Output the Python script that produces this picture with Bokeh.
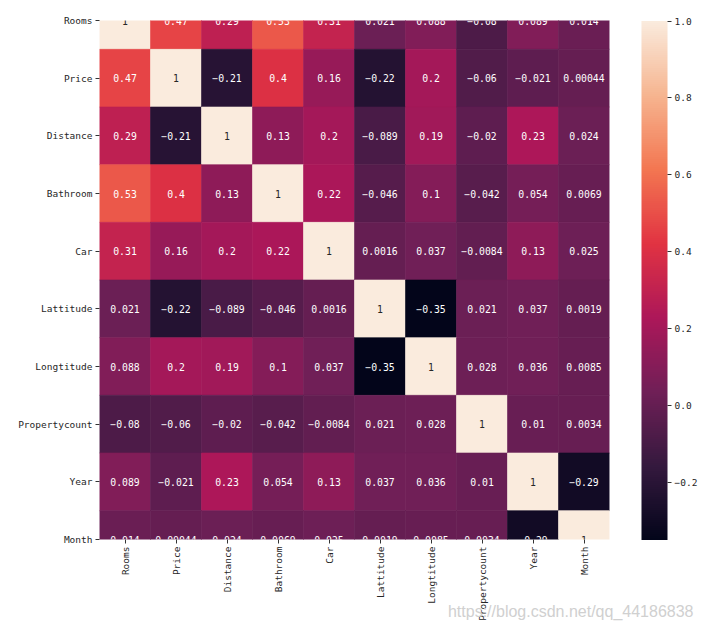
import numpy as np
from bokeh.plotting import figure
from bokeh.models import (ColumnDataSource, LinearColorMapper, ColorBar, FixedTicker,
                          Range1d, CustomJSTickFormatter, Title)
from bokeh.transform import transform
from bokeh.core.properties import value
from bokeh.embed import file_html
from bokeh.resources import INLINE

# Variables of the housing data set, in matrix order
names = ["Rooms", "Price", "Distance", "Bathroom", "Car", "Lattitude",
         "Longtitude", "Propertycount", "Year", "Month"]

# Pairwise correlation coefficients, one row per variable
rooms         = [1, 0.47, 0.29, 0.53, 0.31, 0.021, 0.088, -0.08, 0.089, 0.014]
price         = [0.47, 1, -0.21, 0.4, 0.16, -0.22, 0.2, -0.06, -0.021, 0.00044]
distance      = [0.29, -0.21, 1, 0.13, 0.2, -0.089, 0.19, -0.02, 0.23, 0.024]
bathroom      = [0.53, 0.4, 0.13, 1, 0.22, -0.046, 0.1, -0.042, 0.054, 0.0069]
car           = [0.31, 0.16, 0.2, 0.22, 1, 0.0016, 0.037, -0.0084, 0.13, 0.025]
lattitude     = [0.021, -0.22, -0.089, -0.046, 0.0016, 1, -0.35, 0.021, 0.037, 0.0019]
longtitude    = [0.088, 0.2, 0.19, 0.1, 0.037, -0.35, 1, 0.028, 0.036, 0.0085]
propertycount = [-0.08, -0.06, -0.02, -0.042, -0.0084, 0.021, 0.028, 1, 0.01, 0.0034]
year          = [0.089, -0.021, 0.23, 0.054, 0.13, 0.037, 0.036, 0.01, 1, -0.29]
month         = [0.014, 0.00044, 0.024, 0.0069, 0.025, 0.0019, 0.0085, 0.0034, -0.29, 1]

corr_rows = [rooms, price, distance, bathroom, car, lattitude,
             longtitude, propertycount, year, month]

# colour bar ticks
cbar_ticks = [-0.2, 0.0, 0.2, 0.4, 0.6, 0.8, 1.0]

# "rocket"-style sequential palette, built from a few anchor colours
rocket_stops = ["#03051a", "#35193e", "#701f57", "#ad1759",
                "#e13342", "#f37651", "#f6b48f", "#faebdd"]


def build_palette(stops, n=256):
    rgb = np.array([[int(h[i:i + 2], 16) for i in (1, 3, 5)] for h in stops], float)
    pos = np.linspace(0, 1, len(stops))
    t = np.linspace(0, 1, n)
    out = []
    for k in t:
        c = [np.interp(k, pos, rgb[:, ch]) for ch in range(3)]
        out.append("#%02x%02x%02x" % tuple(int(round(v)) for v in c))
    return out


palette = build_palette(rocket_stops)

n = len(names)
xs, ys, vals, labels, tcols = [], [], [], [], []
for i, row in enumerate(corr_rows):
    for j, v in enumerate(row):
        xs.append(j + 0.5)
        ys.append(n - 1 - i)
        vals.append(v)
        labels.append(format(v, ".2g").replace("-", "\u2212"))
        tcols.append("#262626" if v > 0.75 else "#ffffff")

src = ColumnDataSource(dict(x=xs, y=ys, v=vals, label=labels, tc=tcols))

vmin = min(min(r) for r in corr_rows)
vmax = max(max(r) for r in corr_rows)
mapper = LinearColorMapper(palette=palette, low=vmin, high=vmax)

font = "DejaVu Sans Mono"

p = figure(frame_width=510, frame_height=519,
           x_range=Range1d(0, n), y_range=Range1d(0, n - 1),
           output_backend="svg", toolbar_location=None,
           min_border_left=99, min_border_top=20, min_border_bottom=88,
           min_border_right=94, background_fill_color="white",
           border_fill_color="white")
p.outline_line_color = None
p.grid.visible = False

p.rect(x="x", y="y", width=1, height=1, source=src,
       fill_color=transform("v", mapper), line_color=transform("v", mapper),
       line_width=0.6)
p.text(x="x", y="y", text="label", source=src, text_color="tc",
       text_align="center", text_baseline="middle",
       text_font=value(font), text_font_size="9.8px")

# axes
p.xaxis.ticker = FixedTicker(ticks=[j + 0.5 for j in range(n)])
p.xaxis.formatter = CustomJSTickFormatter(args=dict(names=names),
                                          code="return names[Math.round(tick - 0.5)];")
p.xaxis.major_label_orientation = np.pi / 2
p.yaxis.ticker = FixedTicker(ticks=list(range(n)))
p.yaxis.formatter = CustomJSTickFormatter(args=dict(names=names, n=n),
                                          code="return names[n - 1 - Math.round(tick)];")
for ax in (p.xaxis, p.yaxis):
    ax.axis_line_color = None
    ax.major_tick_in = 0
    ax.major_tick_out = 4
    ax.major_tick_line_color = "#333333"
    ax.minor_tick_line_color = None
    ax.major_label_standoff = 3
    ax.major_label_text_font = font
    ax.major_label_text_font_size = "9.5px"
    ax.major_label_text_color = "#262626"

cbar = ColorBar(color_mapper=mapper, width=26, height=519,
                location="center_right",
                ticker=FixedTicker(ticks=cbar_ticks),
                formatter=CustomJSTickFormatter(code="return tick.toFixed(1).replace('-', '\\u2212');"),
                major_tick_in=0, major_tick_out=4,
                major_tick_line_color="#333333", bar_line_color=None,
                border_line_color=None, padding=32, margin=0,
                label_standoff=3, major_label_text_font=font,
                major_label_text_font_size="9.5px",
                major_label_text_color="#262626",
                background_fill_color=None)
p.add_layout(cbar, "right")

# source watermark in the lower right corner
p.add_layout(Title(text="https://blog.csdn.net/qq_44186838", align="right",
                   vertical_align="top", offset=-84, standoff=-42,
                   text_font="Liberation Sans", text_font_style="normal",
                   text_font_size="16px", text_color="#d0d0d0"), "below")

open("out.html", "w").write(file_html(p, INLINE))
